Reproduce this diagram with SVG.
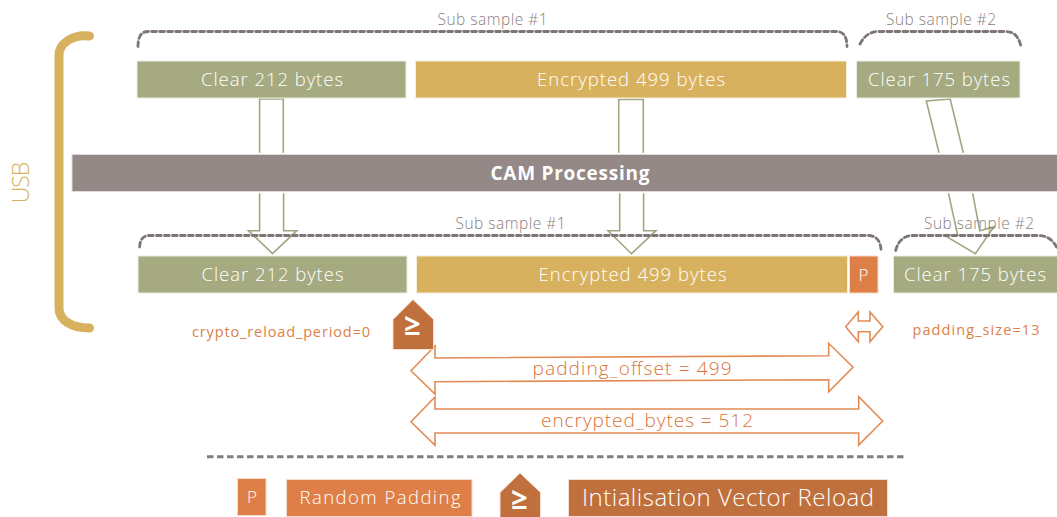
<svg xmlns="http://www.w3.org/2000/svg" width="1057" height="517" viewBox="0 0 1057 517">
<style>
text{font-family:"Open Sans","Noto Sans","DejaVu Sans",sans-serif;font-weight:300;text-anchor:middle;dominant-baseline:auto}
.w{fill:#fff}
.lbl{fill:#fff;font-size:18.5px}
.sub{fill:#8A807D;font-size:15.5px}
.or{fill:#DE7F47;font-size:14.5px;font-weight:400}
.big{fill:#DA7236;font-size:19px}
.ge{fill:#fff;font-size:29px;font-weight:700}
.green{fill:#A5AA80;stroke:#ECEDE3;stroke-width:1}
.gold{fill:#D8B15E;stroke:#F6EDD9;stroke-width:1}
.orange{fill:#DE7F47;stroke:#F7DCCB;stroke-width:1}
.dark{fill:#C0703C;stroke:#F3E0D3;stroke-width:1}
.flow{fill:none;stroke:#A1A682;stroke-width:1.6}
.dim{fill:none;stroke:#E28B55;stroke-width:1.6}
.dash{fill:none;stroke:#7E7674;stroke-width:2.8;stroke-dasharray:4.8 3.2;stroke-linecap:round}
</style>
<g id="connectors">
<path class="flow" d="M259.6 152.7V99H283.3V152.7M259.6 193.3V230.7H248.5L272.5 253.7L296.8 230.7H283.6V193.3"/>
<path class="flow" d="M618.7 152.7V99.5H643.3V152.7M619.7 193.3V230.7H608L631.5 253.7L656 230.7H643.6V193.3"/>
<path class="flow" d="M939 152.7L926.3 101L950.2 99L963.3 152.7M948.5 193.3L957.6 235L945 235.7L975.4 253.7L993.9 226.7L979.8 230.7L972.7 193.3"/>
<path class="dash" d="M138 46.5C138 37 141 31.5 148 31.5H836C844 31.5 847 37 847 46.5"/>
<path class="dash" d="M860 44C864 36 870 31.5 879 31.5H1006C1014 31.5 1019 37 1021 46.5"/>
<path class="dash" d="M139.6 247C140 240 143 235.5 149 235.5H868C876 235.5 881 241 881 250.5"/>
<path class="dash" d="M895.7 250.5C898 241 904 235.5 913 235.5H1038C1047 235.5 1053 240 1057 248"/>
<path class="dim" d="M845.7 326.7L858.3 312V321H870V312L882.7 326.7L870 341.7V331.7H858.3V341.7Z"/>
<path class="dim" d="M411 370.7L435 346V358L828.7 355.7V343.3L853 367.3L828.7 391.7V379.7L435 381.7V394Z"/>
<path class="dim" d="M411 421.7L435 397V409H858.7V396.7L882.7 421L858.7 445V433H435V445.3Z"/>
<path fill="none" stroke="#808080" stroke-width="3" stroke-dasharray="6.5 3.5" d="M207 456.7H905"/>
<path id="usb-bracket" fill="none" stroke="#D8B15E" stroke-width="9" stroke-linecap="round" d="M89.5 36C72 34 59 44 59 55V308C59 320 71 328 89.5 328"/>
</g>
<text id="usb-label" transform="translate(28.5 182.5) rotate(-90)" style="fill:#D8B15E;font-size:23px" textLength="41.5" lengthAdjust="spacing">USB</text>
<text class="sub" x="492.5" y="24.5" textLength="110">Sub sample #1</text>
<text class="sub" x="941" y="24.5" textLength="110">Sub sample #2</text>
<text class="sub" x="510.5" y="229" textLength="110">Sub sample #1</text>
<text class="sub" x="979" y="229" textLength="110">Sub sample #2</text>
<g id="top-clear-212"><rect class="green" x="137" y="61" width="269" height="37"/><text class="lbl" x="272" y="85.5" textLength="142">Clear 212 bytes</text></g>
<g id="top-encrypted"><rect class="gold" x="415.5" y="61" width="431" height="37"/><text class="lbl" x="631" y="85.5" textLength="188">Encrypted 499 bytes</text></g>
<g id="top-clear-175"><rect class="green" x="856.5" y="61" width="163.5" height="37"/><text class="lbl" x="939" y="85.5" textLength="142">Clear 175 bytes</text></g>
<g id="cam"><rect x="72" y="154.5" width="986" height="37" fill="#948987" stroke="#DEDBDA" stroke-width="1"/><text class="w" x="570" y="179.5" style="font-weight:700;font-size:19px" textLength="159">CAM Processing</text></g>
<g id="low-clear-212"><rect class="green" x="138" y="256" width="269" height="37"/><text class="lbl" x="272.5" y="280.5" textLength="142">Clear 212 bytes</text></g>
<g id="low-encrypted"><rect class="gold" x="416.5" y="256" width="431" height="37"/><text class="lbl" x="632.5" y="280.5" textLength="188">Encrypted 499 bytes</text></g>
<g id="low-p"><rect class="orange" x="849.5" y="256" width="28.5" height="37"/><text class="lbl" x="863.5" y="280.5" style="font-size:17px">P</text></g>
<g id="low-clear-175"><rect class="green" x="893.5" y="256" width="164" height="37"/><text class="lbl" x="975" y="280.5" textLength="142">Clear 175 bytes</text></g>
<g id="reload-marker"><polygon class="dark" points="413,299.5 433.5,319.5 433.5,349.5 393,349.5 393,319.5"/><text class="ge" x="412.5" y="335">≥</text></g>
<text class="or" x="281" y="337" textLength="178">crypto_reload_period=0</text>
<text class="or" x="976" y="335" textLength="127">padding_size=13</text>
<text class="big" x="632" y="374.5" textLength="199">padding_offset = 499</text>
<text class="big" x="647" y="427" textLength="212">encrypted_bytes = 512</text>
<g id="legend-p"><rect class="orange" x="237.5" y="478.5" width="28.5" height="37"/><text class="lbl" x="252" y="503" style="font-size:17px">P</text></g>
<g id="legend-random"><rect class="orange" x="286.5" y="479.5" width="185.5" height="37"/><text class="lbl" x="380" y="504" textLength="161">Random Padding</text></g>
<g id="legend-marker"><polygon class="dark" points="520,473 540.5,492.5 540.5,517.5 500,517.5 500,492.5"/><text class="ge" x="519.5" y="508.5">≥</text></g>
<g id="legend-iv"><rect class="dark" x="568.5" y="479.5" width="319" height="37"/><text class="w" x="728" y="506" style="font-size:24px" textLength="292">Intialisation Vector Reload</text></g>
</svg>
